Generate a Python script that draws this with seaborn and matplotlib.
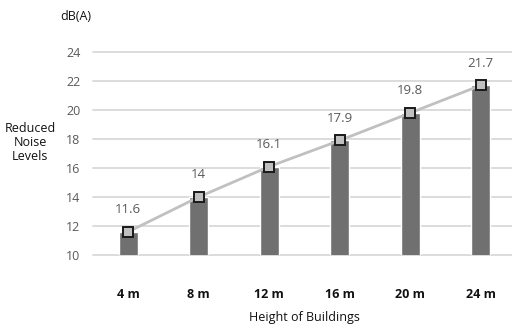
import matplotlib
matplotlib.use("Agg")
import matplotlib.pyplot as plt
import seaborn as sns
import pandas as pd

heights = ["4 m", "8 m", "12 m", "16 m", "20 m", "24 m"]
reduced_noise = [11.6, 14.0, 16.1, 17.9, 19.8, 21.7]
value_labels = ["11.6", "14", "16.1", "17.9", "19.8", "21.7"]
y_ticks = [10, 12, 14, 16, 18, 20, 22, 24]

df = pd.DataFrame({"height": heights, "noise": reduced_noise})

sns.set_theme(style="white")
plt.rcParams["font.family"] = ["Open Sans", "DejaVu Sans"]

fig = plt.figure(figsize=(5.12, 3.27), dpi=100)
ax = fig.add_axes([93 / 512, 72 / 327, 1 - 93 / 512, 203 / 327])

for y in y_ticks:
    ax.axhline(y, color="#d9d9d9", lw=1.3, zorder=0)

sns.barplot(data=df, x="height", y="noise", color="#707070", saturation=1,
            width=0.27, ax=ax, zorder=2)
sns.pointplot(data=df, x="height", y="noise", color="#c0c0c0", markers="s",
              markersize=7, linewidth=2, markeredgecolor="#1a1a1a",
              markeredgewidth=1.4, markerfacecolor="#c0c0c0", ax=ax, zorder=3)
for coll in ax.lines:
    coll.set_clip_on(False)

ax.set_ylim(10, 24)
ax.set_xlim(-0.5, -0.5 + 419 / 70.5)
ax.set_yticks(y_ticks)
ax.set_yticklabels([str(v) for v in y_ticks], color="#595959", fontsize=9)
ax.tick_params(axis="y", length=0, pad=9)
ax.tick_params(axis="x", length=0, pad=24)
for lbl in ax.get_xticklabels():
    lbl.set_fontweight("bold")
    lbl.set_fontsize(9)
    lbl.set_color("#111111")

for i, (v, t) in enumerate(zip(reduced_noise, value_labels)):
    ax.annotate(t, (i, v), xytext=(0, 16), textcoords="offset points",
                ha="center", va="center", fontsize=9.5, color="#595959")

ax.set_xlabel("")
ax.set_ylabel("")
for s in ax.spines.values():
    s.set_visible(False)

fig.text(76 / 512, 1 - 17 / 327, "dB(A)", ha="center", va="center",
         fontsize=9, color="#111111")
fig.text(30 / 512, 1 - 143 / 327, "Reduced\nNoise\nLevels", ha="center",
         va="center", fontsize=9, color="#111111", linespacing=1.1)
fig.text(304 / 512, 1 - 318 / 327, "Height of Buildings", ha="center",
         va="center", fontsize=9, color="#111111")

fig.savefig("out.png", dpi=100)
